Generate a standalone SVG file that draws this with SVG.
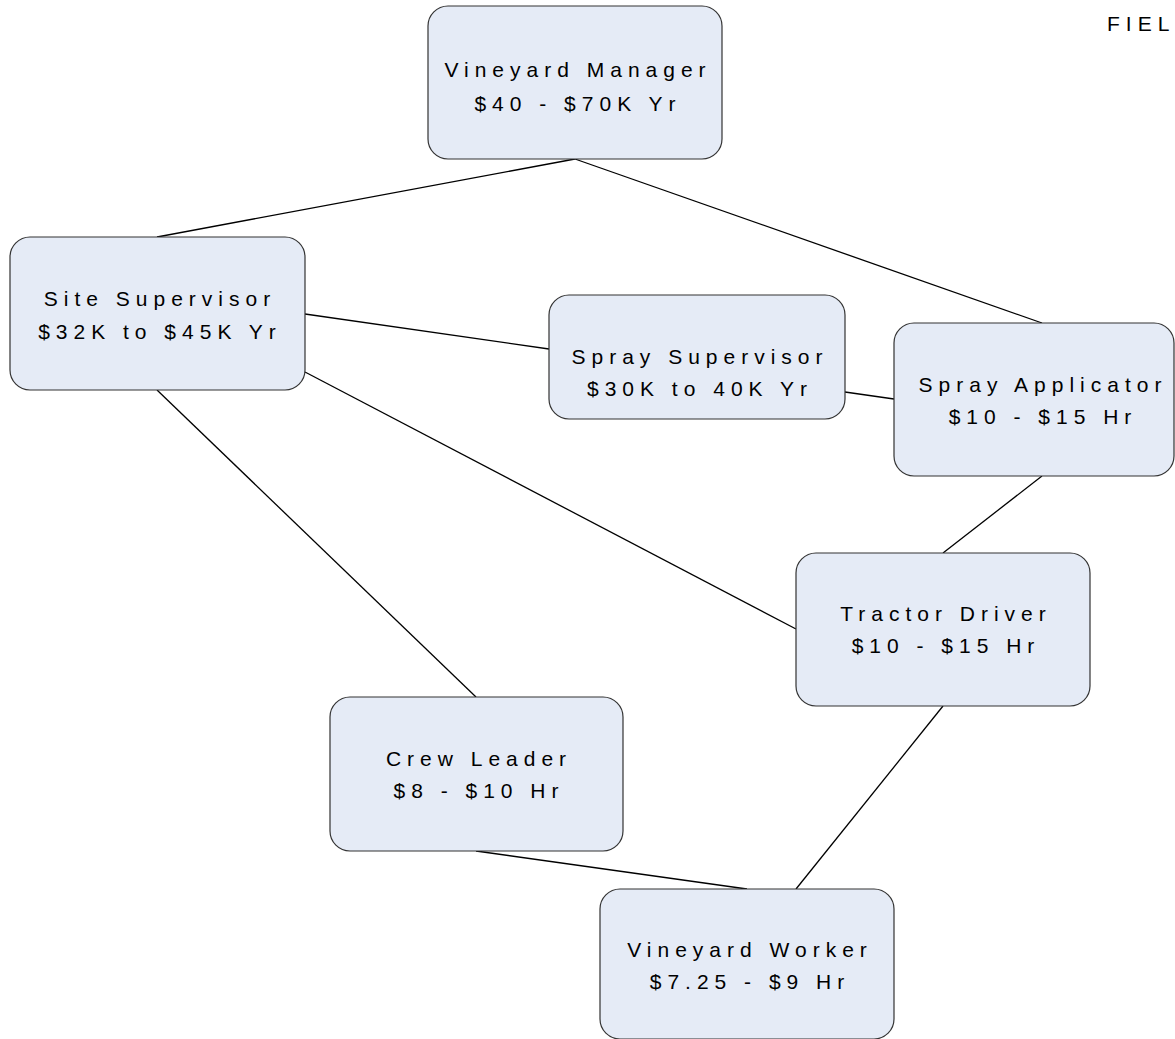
<svg xmlns="http://www.w3.org/2000/svg" width="1175" height="1039" viewBox="0 0 1175 1039">
<style>
.box{fill:#e5ebf6;stroke:#333;stroke-width:1.2}
.lbl{font-family:"Liberation Sans",Arial,sans-serif;font-size:21px;letter-spacing:6px;fill:#000;text-anchor:middle}
.conn line{stroke:#000;stroke-width:1.3}
</style>
<rect width="1175" height="1039" fill="#fff"/>
<g class="conn">
<line x1="575" y1="159" x2="157" y2="237"/>
<line x1="575" y1="159" x2="1042" y2="323"/>
<line x1="305" y1="314" x2="549" y2="349"/>
<line x1="845" y1="392" x2="894" y2="399"/>
<line x1="305" y1="372" x2="796" y2="629"/>
<line x1="157" y1="390" x2="476" y2="697"/>
<line x1="1042" y1="476" x2="943" y2="553"/>
<line x1="943" y1="706" x2="796" y2="889"/>
<line x1="476" y1="851" x2="747" y2="889"/>
</g>
<g id="vineyard-manager"><rect class="box" x="428" y="6" width="294" height="153" rx="20"/><text class="lbl" x="578" y="77">Vineyard Manager</text><text class="lbl" x="578" y="111">$40 - $70K Yr</text></g>
<g id="site-supervisor"><rect class="box" x="10" y="237" width="295" height="153" rx="20"/><text class="lbl" x="160" y="306">Site Supervisor</text><text class="lbl" x="160" y="339">$32K to $45K Yr</text></g>
<g id="spray-supervisor"><rect class="box" x="549" y="295" width="296" height="124" rx="20"/><text class="lbl" x="700" y="364">Spray Supervisor</text><text class="lbl" x="700" y="396">$30K to 40K Yr</text></g>
<g id="spray-applicator"><rect class="box" x="894" y="323" width="280" height="153" rx="20"/><text class="lbl" x="1043" y="392">Spray Applicator</text><text class="lbl" x="1043" y="424">$10 - $15 Hr</text></g>
<g id="tractor-driver"><rect class="box" x="796" y="553" width="294" height="153" rx="20"/><text class="lbl" x="946" y="621">Tractor Driver</text><text class="lbl" x="946" y="653">$10 - $15 Hr</text></g>
<g id="crew-leader"><rect class="box" x="330" y="697" width="293" height="154" rx="20"/><text class="lbl" x="479" y="766">Crew Leader</text><text class="lbl" x="479" y="798">$8 - $10 Hr</text></g>
<g id="vineyard-worker"><rect class="box" x="600" y="889" width="294" height="150" rx="20"/><text class="lbl" x="750" y="957">Vineyard Worker</text><text class="lbl" x="750" y="989">$7.25 - $9 Hr</text></g>
<text class="lbl" x="1107" y="31" style="text-anchor:start">FIEL</text>
</svg>
